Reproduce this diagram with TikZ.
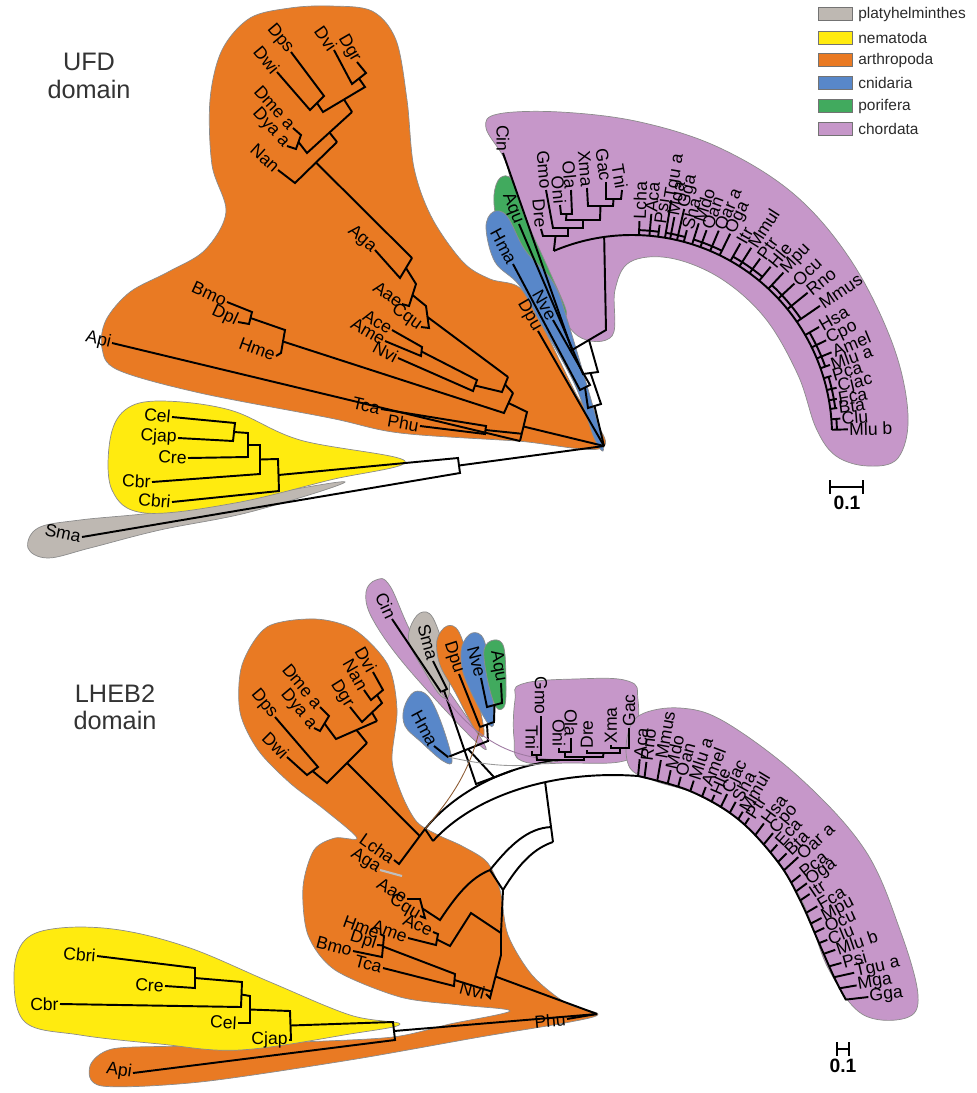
\documentclass[tikz,border=0pt]{standalone}
\usepackage{fontspec}
\setmainfont{Liberation Sans}
\usetikzlibrary{calc}
\definecolor{platy}{HTML}{BEB8B2}
\definecolor{nema}{HTML}{FFEB0F}
\definecolor{arthro}{HTML}{E97A23}
\definecolor{cnid}{HTML}{5887C9}
\definecolor{pori}{HTML}{41AA5E}
\definecolor{chord}{HTML}{C697C9}
\definecolor{inktext}{HTML}{2B2B2B}
\definecolor{brline}{HTML}{8C5A32}

\begin{document}
\begin{tikzpicture}[
    x=0.02cm, y=-0.02cm,
    tx/.style={font=\fontsize{10}{10}\selectfont, inner sep=0.6pt},
    te/.style={tx, anchor=east},
    tw/.style={tx, anchor=west},
    br/.style={line width=1.1pt},
    blob/.style={draw=black!45, line width=0.4pt},
    faint/.style={line width=0.5pt},
    headline/.style={font=\fontsize{14.4}{15.5}\selectfont, text=black!80, align=center},
    keybox/.style={draw=black!55, line width=0.5pt, minimum width=0.68cm, minimum height=0.26cm, inner sep=0pt},
    keytxt/.style={font=\fontsize{8.8}{10}\selectfont, text=inktext, anchor=west, inner sep=0pt},
    sbar/.style={line width=1.1pt, |-|},
    sbtxt/.style={font=\bfseries\fontsize{11}{11}\selectfont}
]
\useasboundingbox (0,0) rectangle (977,1093);

% --- Titles ---
\node[headline] (ufd) at (89,76) {UFD\\domain};
\node[headline] (lheb) at (115,707) {LHEB2\\domain};

% --- Legend ---
\foreach \y/\c/\t in {14/platy/platyhelminthes, 38/nema/nematoda, 60/arthro/arthropoda, 83/cnid/cnidaria, 106/pori/porifera, 129/chord/chordata}{
  \node[keybox, fill=\c] (key\c) at (835,\y) {};
  \node[keytxt] (lab\c) at (858,\y) {\t};
}

% --- UFD: clade shapes ---
\path[blob, fill=platy] plot[smooth cycle, tension=0.6] coordinates {(28,548) (38,528) (80,520) (160,512) (250,497) (345,482) (250,512) (160,530) (90,548) (48,558)};
\path[blob, fill=nema] plot[smooth cycle, tension=0.6] coordinates {(110,440) (125,410) (160,401) (230,410) (300,440) (405,461) (330,480) (235,503) (145,513) (112,490)};
\path[blob, fill=arthro] plot[smooth cycle, tension=0.55] coordinates {(604,447) (575,392) (542,325) (520,288) (490,279) (463,262) (432,218) (414,168) (407,100) (396,40) (372,11) (330,6) (290,8) (250,18) (222,50) (210,100) (212,165) (226,212) (205,250) (168,272) (130,292) (106,320) (102,348) (118,370) (200,393) (330,418) (400,433) (517,441)};
\path[blob, fill=chord] plot[smooth cycle, tension=0.6] coordinates {(486,128) (498,114) (560,112) (640,122) (720,148) (795,195) (852,262) (893,345) (908,415) (898,458) (868,466) (836,456) (816,428) (798,375) (765,318) (720,278) (670,258) (630,262) (615,290) (612,336) (578,336) (548,292) (530,248) (514,195) (505,160)};
\path[blob, fill=pori] plot[smooth cycle, tension=0.6] coordinates {(494,195) (500,178) (512,180) (524,215) (548,268) (566,310) (560,312) (535,275) (510,240) (497,220)};
\path[blob, fill=cnid] plot[smooth cycle, tension=0.6] coordinates {(486,228) (493,212) (507,216) (525,250) (553,282) (568,322) (602,440) (595,440) (575,385) (540,322) (519,285) (495,262)};

% --- LHEB2: clade shapes ---
\path[blob, fill=arthro] plot[smooth cycle, tension=0.5] coordinates {(598,1014) (566,1003) (532,975) (508,935) (500,890) (487,862) (462,846) (438,835) (417,822) (402,795) (392,760) (397,710) (388,665) (355,630) (315,619) (267,627) (242,665) (240,712) (258,750) (290,783) (325,810) (357,838) (335,838) (314,850) (303,887) (308,935) (335,970) (400,997) (460,1005) (510,1011) (450,1024) (393,1037) (300,1042) (180,1046) (112,1049) (90,1066) (102,1086) (200,1082) (350,1060) (480,1037) (570,1022)};
\path[blob, fill=nema] plot[smooth cycle, tension=0.6] coordinates {(14,975) (25,940) (60,928) (120,930) (190,948) (270,982) (350,1015) (400,1024) (350,1034) (240,1050) (160,1044) (80,1035) (25,1022)};
\path[blob, fill=chord] plot[smooth cycle, tension=0.6] coordinates {(366,592) (376,580) (390,586) (418,645) (482,740) (472,738) (405,665) (372,618)};
\path[blob, fill=platy] plot[smooth cycle, tension=0.6] coordinates {(410,628) (420,613) (433,618) (447,660) (449,695) (440,695) (425,672) (410,645)};
\path[blob, fill=arthro] plot[smooth cycle, tension=0.6] coordinates {(437,640) (447,626) (459,632) (470,668) (484,730) (476,731) (455,692) (440,665)};
\path[blob, fill=cnid] plot[smooth cycle, tension=0.6] coordinates {(462,646) (472,633) (484,640) (491,680) (494,722) (487,722) (470,690) (462,668)};
\path[blob, fill=pori] plot[smooth cycle, tension=0.6] coordinates {(484,650) (494,640) (504,648) (506,690) (504,707) (496,707) (488,682)};
\path[blob, fill=cnid] plot[smooth cycle, tension=0.6] coordinates {(404,708) (414,692) (428,696) (441,722) (452,760) (443,761) (421,742) (405,726)};
\path[blob, fill=chord] plot[smooth cycle, tension=0.7] coordinates {(515,700) (522,684) (575,679) (628,681) (638,700) (636,745) (624,761) (570,763) (522,761) (514,738)};
\path[blob, fill=chord] plot[smooth cycle, tension=0.6] coordinates {(627,738) (640,715) (680,708) (725,722) (800,778) (865,850) (900,930) (918,995) (906,1018) (862,1014) (828,968) (800,897) (752,832) (700,796) (655,781) (630,768)};

% --- UFD: Drosophila ---
\node[te, rotate=-50] (tDps) at (291,52) {Dps};
\node[te, rotate=-50] (tDwi) at (277,72) {Dwi};
\node[te, rotate=-55] (tDvi) at (334,50) {Dvi};
\node[te, rotate=-60] (tDgr) at (357,62) {Dgr};
\node[te, rotate=-48] (tDme) at (293,128) {Dme a};
\node[te, rotate=-48] (tDya) at (287,146) {Dya a};
\node[te, rotate=-42] (tNan) at (278,170) {Nan};
\coordinate (d1) at (324,96);  \coordinate (d2) at (310,110);
\coordinate (d3) at (352,84);  \coordinate (d4) at (366,73);
\coordinate (d5) at (323,112); \coordinate (d6) at (365,87);
\coordinate (d7) at (352,112); \coordinate (d8) at (301,135);
\coordinate (d9) at (296,149); \coordinate (d10) at (307,153);
\coordinate (d11) at (337,142); \coordinate (d12) at (295,183);
\coordinate (d13) at (412,258);
\draw[br] (tDps.east) -- (d1) -- (d2) -- (tDwi.east);
\draw[br] (tDvi.east) -- (d3) -- (d4) -- (tDgr.east);
\draw[br] ($(d1)!0.5!(d2)$) -- (d5) -- (d6) -- ($(d3)!0.5!(d4)$);
\draw[br] ($(d5)!0.5!(d6)$) -- (d7);
\draw[br] (tDme.east) -- (d8) -- (d9) -- (tDya.east);
\draw[br] ($(d8)!0.5!(d9)$) -- (d10) -- (d7);
\draw[br] ($(d10)!0.5!(d7)$) -- (d11);
\draw[br] (tNan.east) -- (d12) -- (d11);
\draw[br] ($(d12)!0.5!(d11)$) -- (d13);

% --- UFD: other arthropods ---
\node[te, rotate=-40] (tAga) at (375,250) {Aga};
\node[te, rotate=-35] (tAae) at (402,304) {Aae};
\node[te, rotate=-35] (tCqu) at (421,327) {Cqu};
\coordinate (a1) at (400,278); \coordinate (a2) at (416,284);
\coordinate (a3) at (409,306); \coordinate (a4) at (426,306);
\coordinate (a5) at (429,328); \coordinate (a6) at (508,377);
\draw[br] (tAga.east) -- (a1) -- (d13);
\draw[br] ($(d13)!0.5!(a1)$) -- (a2) -- (a3) -- (tAae.east);
\draw[br] ($(a2)!0.5!(a3)$) -- (a4) -- (a5) -- (tCqu.east);
\draw[br] ($(a4)!0.5!(a5)$) -- (a6);
\node[te, rotate=-30] (tAce) at (392,330) {Ace};
\node[te, rotate=-30] (tAme) at (385,341) {Ame};
\node[te, rotate=-28] (tNvi) at (398,358) {Nvi};
\coordinate (h1) at (422,347); \coordinate (h2) at (421,356);
\coordinate (h3) at (477,380); \coordinate (h4) at (473,391);
\coordinate (h5) at (502,392); \coordinate (a7) at (513,393);
\draw[br] (tAce.east) -- (h1) -- (h2) -- (tAme.east);
\draw[br] ($(h1)!0.5!(h2)$) -- (h3) -- (h4) -- (tNvi.east);
\draw[br] ($(h3)!0.5!(h4)$) -- (h5) -- (a6);
\draw[br] ($(a6)!0.5!(h5)$) -- (a7);
\node[te, rotate=-25] (tBmo) at (227,302) {Bmo};
\node[te, rotate=-25] (tDpl) at (238,322) {Dpl};
\node[te, rotate=-20] (tHme) at (276,356) {Hme};
\coordinate (l1) at (252,312); \coordinate (l2) at (249,324);
\coordinate (l3) at (285,330); \coordinate (l4) at (281,353);
\coordinate (a8) at (504,413); \coordinate (a9) at (527,412);
\coordinate (a10) at (520,441); \coordinate (R1) at (604,446);
\draw[br] (tBmo.east) -- (l1) -- (l2) -- (tDpl.east);
\draw[br] ($(l1)!0.5!(l2)$) -- (l3) -- (l4) -- (tHme.east);
\draw[br] ($(l3)!0.5!(l4)$) -- (a8) -- (a7);
\draw[br] ($(a7)!0.5!(a8)$) -- (a9) -- (a10);
\node[te, rotate=-13] (tApi) at (112,343) {Api};
\draw[br] (tApi.east) -- (a10);
\node[te, rotate=-13] (tTca) at (381,409) {Tca};
\node[te, rotate=-10] (tPhu) at (420,426) {Phu};
\coordinate (p1) at (486,426); \coordinate (p2) at (485,434);
\draw[br] (tTca.east) -- (p1) -- (p2) -- (tPhu.east);
\draw[br] ($(p1)!0.5!(p2)$) -- ($(a9)!0.75!(a10)$);
\draw[br] ($(a9)!0.5!(a10)$) -- (R1);

% --- UFD: nematodes and flatworm ---
\node[te, rotate=-5] (tCel) at (172,417) {Cel};
\node[te, rotate=-3] (tCjap) at (178,438) {Cjap};
\node[te, rotate=-3] (tCre) at (188,458) {Cre};
\node[te, rotate=-3] (tCbr) at (152,482) {Cbr};
\node[te, rotate=-5] (tCbri) at (172,502) {Cbri};
\node[te, rotate=-12] (tSma) at (82,537) {Sma};
\coordinate (c1) at (235,423); \coordinate (c2) at (233,441);
\coordinate (c3) at (248,433); \coordinate (c4) at (248,457);
\coordinate (c5) at (260,445); \coordinate (c6) at (260,474);
\coordinate (c7) at (278,459); \coordinate (c8) at (279,491);
\coordinate (c9) at (458,458); \coordinate (c10) at (460,473);
\draw[br] (tCel.east) -- (c1) -- (c2) -- (tCjap.east);
\draw[br] ($(c1)!0.5!(c2)$) -- (c3) -- (c4) -- (tCre.east);
\draw[br] ($(c3)!0.5!(c4)$) -- (c5) -- (c6) -- (tCbr.east);
\draw[br] ($(c5)!0.5!(c6)$) -- (c7) -- (c8) -- (tCbri.east);
\draw[br] ($(c7)!0.5!(c8)$) -- (c9) -- (c10) -- (tSma.east);
\draw[br] ($(c9)!0.5!(c10)$) -- (R1);

% --- UFD: sponge, cnidarians, Daphnia, Ciona ---
\node[te, rotate=-90] (tCin) at (503,153) {Cin};
\node[te, rotate=-68] (tAqu) at (519,224) {Aqu};
\node[te, rotate=-62] (tHma) at (513,264) {Hma};
\node[te, rotate=-60] (tNve) at (553,320) {Nve};
\node[te, rotate=-60] (tDpu) at (538,331) {Dpu};
\coordinate (C1) at (632,435);
\coordinate (cstem) at ($(C1)+(-98:200)$);
\coordinate (t0) at (606,330); \coordinate (t1) at (572,350);
\coordinate (t2) at (598,372); \coordinate (t3) at (583,374);
\coordinate (t4) at (580,390); \coordinate (t5) at (590,385);
\coordinate (t6) at (601,404); \coordinate (t7) at (588,408);
\draw[br] (cstem) -- (t0) -- (t1) -- (tCin.east);
\draw[br] ($(t0)!0.5!(t1)$) -- (t2) -- (t3) -- (tAqu.east);
\draw[br] (tHma.east) -- (t4) -- (t5) -- (tNve.east);
\draw[br] ($(t2)!0.5!(t3)$) -- (t6) -- (t7) -- ($(t4)!0.5!(t5)$);
\draw[br] ($(t6)!0.5!(t7)$) -- (R1);
\draw[br] (tDpu.east) -- (R1);

% --- UFD: chordates ---
\draw[br] ($(C1)+(-113:200)$) coordinate (fishroot) arc[start angle=-113, end angle=-1.5, radius=200];
\node[te, rotate=-85] (tGmo) at (546,190) {Gmo};
\node[te, rotate=-85] (tDre) at (541,229) {Dre};
\node[te, rotate=-85] (tOni) at (560,205) {Oni};
\node[te, rotate=-85] (tOla) at (571,190) {Ola};
\node[te, rotate=-85] (tXma) at (587,188) {Xma};
\node[te, rotate=-82] (tGac) at (606,182) {Gac};
\node[te, rotate=-80] (tTni) at (622,190) {Tni};
\coordinate (f1) at (606,199); \coordinate (f2) at (621,199);
\coordinate (f3) at (588,206); \coordinate (f4) at (613,206);
\coordinate (f5) at (561,214); \coordinate (f6) at (572,214);
\coordinate (f7) at (566,220); \coordinate (f8) at (600,220);
\coordinate (f9) at (553,228); \coordinate (f10) at (583,228);
\coordinate (f11) at (543,236); \coordinate (f12) at (568,236);
\draw[br] (tGac.east) -- (f1) -- (f2) -- (tTni.east);
\draw[br] (tXma.east) -- (f3) -- (f4) -- ($(f1)!0.5!(f2)$);
\draw[br] (tOni.east) -- (f5) -- (f6) -- (tOla.east);
\draw[br] ($(f5)!0.5!(f6)$) -- (f7) -- (f8) -- ($(f3)!0.5!(f4)$);
\draw[br] (tGmo.east) -- (f9) -- (f10) -- ($(f7)!0.5!(f8)$);
\draw[br] (tDre.east) -- (f11) -- (f12) -- ($(f9)!0.5!(f10)$);
\draw[br] ($(f11)!0.5!(f12)$) -- (fishroot);
\foreach \a/\r/\n [count=\i] in {-88/214/Lcha, -85/222/Aca, -82.5/212/Psi, -80.5/238/Tgu a, -79/222/Mga, -77/232/Gga, -75/212/Sha, -72.5/222/Mdo, -70/218/Oan, -67/222/Oar a, -64/224/Oga, -60.5/220/Itr, -57.5/222/Mmul, -54/218/Ptr, -50.5/218/Hle, -47/222/Mpu, -43/222/Ocu, -39/226/Rno, -34.5/228/Mmus, -30/216/Hsa, -26/216/Cpo, -22.5/216/Amel, -19.5/210/Mlu a, -16.5/208/Pca, -13/210/Cjac, -10/208/Fca, -7.5/207/Bta, -4.5/209/Clu, -1.5/216/Mlu b}{
  \node[tw, rotate={0-(\a)}] (ut\i) at ($(C1)+(\a:\r)$) {\n};
  \draw[br] ($(C1)+(\a:200)$) -- (ut\i.west);
}
\foreach \s/\e in {-88/-82.5, -80.5/-75, -72.5/-64, -60.5/-50.5, -47/-34.5, -30/-19.5, -16.5/-7.5, -4.5/-1.5}
  \draw[br] ($(C1)+(\s:205)$) arc[start angle=\s, end angle=\e, radius=205];

% --- UFD: scale ---
\coordinate (sbL) at (829,487); \coordinate (sbR) at (864,487);
\draw[sbar] (sbL) -- (sbR);
\node[sbtxt] (sbt) at (847,503) {0.1};

% --- LHEB2: Drosophila ---
\node[te, rotate=-60] (bDvi) at (373,672) {Dvi};
\node[te, rotate=-60] (bNan) at (364,690) {Nan};
\node[te, rotate=-58] (bDgr) at (350,707) {Dgr};
\node[te, rotate=-50] (bDme) at (320,707) {Dme a};
\node[te, rotate=-50] (bDya) at (314,728) {Dya a};
\node[te, rotate=-50] (bDps) at (275,717) {Dps};
\node[te, rotate=-45] (bDwi) at (287,757) {Dwi};
\coordinate (e1) at (383,690); \coordinate (e2) at (371,700);
\coordinate (e3) at (382,703); \coordinate (e4) at (362,722);
\coordinate (e5) at (377,721); \coordinate (e6) at (329,716);
\coordinate (e7) at (320,731); \coordinate (e8) at (336,739);
\coordinate (e9) at (367,743); \coordinate (e10) at (318,767);
\coordinate (e11) at (307,775); \coordinate (e12) at (327,783);
\coordinate (m1a) at (425,829); \coordinate (m1b) at (399,864);
\coordinate (m1c) at (433,841);
\draw[br] (bDvi.east) -- (e1) -- (e2) -- (bNan.east);
\draw[br] ($(e1)!0.5!(e2)$) -- (e3) -- (e4) -- (bDgr.east);
\draw[br] ($(e3)!0.5!(e4)$) -- (e5);
\draw[br] (bDme.east) -- (e6) -- (e7) -- (bDya.east);
\draw[br] ($(e6)!0.5!(e7)$) -- (e8) -- (e5);
\draw[br] ($(e8)!0.5!(e5)$) -- (e9);
\draw[br] (bDps.east) -- (e10) -- (e11) -- (bDwi.east);
\draw[br] ($(e10)!0.5!(e11)$) -- (e12) -- (e9);
\draw[br] ($(e12)!0.5!(e9)$) -- ($(m1a)!0.2!(m1b)$);
\node[te, rotate=-35] (bLcha) at (394,860) {Lcha};
\node[te, rotate=-32] (bAga) at (380,870) {Aga};
\draw[br] (m1c) -- (m1a) -- (m1b) -- (bLcha.east);
\coordinate (agaend) at (402,876);
\draw[line width=1.2pt, black!25] (bAga.east) -- (agaend);

% --- LHEB2: other arthropods ---
\node[te, rotate=-30] (bAae) at (407,899) {Aae};
\node[te, rotate=-30] (bCqu) at (420,916) {Cqu};
\node[te, rotate=-25] (bAce) at (433,932) {Ace};
\node[te, rotate=-20] (bAme) at (408,938) {Ame};
\node[te, rotate=-20] (bHme) at (380,934) {Hme};
\node[te, rotate=-18] (bDpl) at (377,945) {Dpl};
\node[te, rotate=-15] (bBmo) at (353,951) {Bmo};
\node[te, rotate=-15] (bTca) at (383,968) {Tca};
\node[te, rotate=-15] (bNvi) at (486,994) {Nvi};
\node[te, rotate=5] (bPhu) at (567,1019) {Phu};
\coordinate (k1) at (420,899); \coordinate (k2) at (425,918);
\coordinate (k3) at (440,920);
\coordinate (k4) at (438,934); \coordinate (k5) at (436,945);
\coordinate (k6) at (450,946); \coordinate (k7) at (471,913);
\coordinate (k8) at (384,936); \coordinate (k9) at (382,957);
\coordinate (k10) at (455,974); \coordinate (k11) at (454,986);
\coordinate (n3a) at (490,870); \coordinate (n3b) at (503,890);
\coordinate (n2) at (501,933);
\coordinate (n1a) at (501,955); \coordinate (n1b) at (490,998);
\coordinate (R2) at (597,1014);
\draw[br] (bAae.east) -- (k1) -- (k2) -- (bCqu.east);
\draw[br] ($(k1)!0.5!(k2)$) -- (k3) .. controls (456,896) and (470,878) .. (n3a);
\draw[br] (bAce.east) -- (k4) -- (k5) -- (bAme.east);
\draw[br] ($(k4)!0.5!(k5)$) -- (k6) -- (k7) -- (n2);
\draw[br] (bHme.east) -- (k8) -- (k9) -- (bBmo.east);
\draw[br] (bDpl.east) -- ($(k8)!0.45!(k9)$);
\draw[br] ($(k8)!0.5!(k9)$) -- (k10) -- (k11) -- (bTca.east);
\draw[br] ($(k10)!0.5!(k11)$) -- ($(n1a)!0.85!(n1b)$);
\draw[br] (n3a) -- (n3b) -- (n2) -- (n1a) -- (n1b) -- (bNvi.east);
\draw[br] ($(n1a)!0.5!(n1b)$) -- (R2);
\draw[br] (bPhu.east) -- (R2);

% --- LHEB2: arcs towards chordates ---
\coordinate (bb1) at (638,776);
\coordinate (v2) at (553,842);
\draw[br] (m1c) .. controls (478,792) and (560,770) .. coordinate[pos=0.6] (v1) (bb1);
\draw[br] (v1) -- (v2);
\draw[br] (n3b) .. controls (520,862) and (535,848) .. (v2);
\draw[br] (n3a) .. controls (510,845) and (528,828) .. ($(v1)!0.75!(v2)$);

% --- LHEB2: nematodes and Api ---
\node[te, rotate=-5] (bCbri) at (97,956) {Cbri};
\node[te, rotate=-3] (bCre) at (165,986) {Cre};
\node[te] (bCbr) at (60,1004) {Cbr};
\node[te, rotate=-3] (bCel) at (238,1023) {Cel};
\node[te] (bCjap) at (289,1040) {Cjap};
\node[te, rotate=-8] (bApi) at (133,1073) {Api};
\coordinate (w1) at (195,968); \coordinate (w2) at (195,988);
\coordinate (w3) at (242,982); \coordinate (w4) at (241,1007);
\coordinate (w5) at (250,996); \coordinate (w6) at (250,1023);
\coordinate (w7) at (290,1011); \coordinate (w8) at (291,1040);
\coordinate (w9) at (393,1022); \coordinate (w10) at (395,1040);
\draw[br] (bCbri.east) -- (w1) -- (w2) -- (bCre.east);
\draw[br] ($(w1)!0.5!(w2)$) -- (w3) -- (w4) -- (bCbr.east);
\draw[br] ($(w3)!0.5!(w4)$) -- (w5) -- (w6) -- (bCel.east);
\draw[br] ($(w5)!0.5!(w6)$) -- (w7) -- (w8) -- (bCjap.east);
\draw[br] ($(w7)!0.5!(w8)$) -- (w9) -- (w10) -- (bApi.east);
\draw[br] ($(w9)!0.5!(w10)$) -- (R2);

% --- LHEB2: Ciona, Sma, Daphnia, cnidarians, sponge ---
\node[te, rotate=-65] (bCin) at (392,619) {Cin};
\node[te, rotate=-75] (bSma) at (433,661) {Sma};
\node[te, rotate=-72] (bDpu) at (459,674) {Dpu};
\node[te, rotate=-75] (bNve) at (481,678) {Nve};
\node[te, rotate=-80] (bAqu) at (501,683) {Aqu};
\node[te, rotate=-62] (bHma) at (434,746) {Hma};
\coordinate (q1) at (441,692); \coordinate (q2) at (447,689);
\coordinate (q3) at (487,707); \coordinate (q4) at (502,703);
\coordinate (q5) at (480,727); \coordinate (q6) at (494,722);
\coordinate (q7) at (448,757); \coordinate (q8) at (488,741);
\coordinate (s0a) at (476,784);
\draw[br] (m1a) .. controls (455,792) and (505,766) .. coordinate[pos=0.7] (u7) (560,760) coordinate (fishroot2);
\draw[br] (bCin.east) -- (q1) -- (q2) -- (bSma.east);
\draw[br] ($(q1)!0.5!(q2)$) -- (s0a) -- (u7);
\draw[br] (bNve.east) -- (q3) -- (q4) -- (bAqu.east);
\draw[br] (bDpu.east) -- (q5) -- (q6) -- ($(q3)!0.5!(q4)$);
\draw[br] (bHma.east) -- (q7) -- (q8) -- ($(q5)!0.5!(q6)$);
\draw[br] ($(q7)!0.5!(q8)$) -- ($(s0a)!0.5!(u7)$);
\draw[faint, brline] (q5) .. controls (470,775) and (445,805) .. (m1a);
\draw[faint, chord!80!black] (q1) .. controls (480,745) and (515,758) .. (fishroot2);
\draw[faint, black!40] (q7) .. controls (485,765) and (520,770) .. (fishroot2);

% --- LHEB2: fish ---
\node[te, rotate=-90] (bGmo) at (541,716) {Gmo};
\node[te, rotate=-90] (bTni) at (532,751) {Tni};
\node[te, rotate=-90] (bOni) at (559,748) {Oni};
\node[te, rotate=-90] (bOla) at (571,738) {Ola};
\node[tw, rotate=90] (bDre) at (587,750) {Dre};
\node[tw, rotate=90] (bXma) at (611,745) {Xma};
\node[tw, rotate=90] (bGac) at (629,728) {Gac};
\coordinate (g1) at (532,755); \coordinate (g2) at (541,755);
\coordinate (g3) at (559,752); \coordinate (g4) at (571,752);
\coordinate (g5) at (611,748); \coordinate (g6) at (629,748);
\coordinate (g7) at (620,753); \coordinate (g8) at (587,753);
\coordinate (g9) at (565,757); \coordinate (g10) at (603,757);
\coordinate (g11) at (537,760); \coordinate (g12) at (584,760);
\draw[br] (bTni.east) -- (g1) -- (g2) -- (bGmo.east);
\draw[br] (bOni.east) -- (g3) -- (g4) -- (bOla.east);
\draw[br] (bXma.west) -- (g5) -- (g6) -- (bGac.west);
\draw[br] (bDre.west) -- (g8) -- (g7) -- ($(g5)!0.5!(g6)$);
\draw[br] ($(g3)!0.5!(g4)$) -- (g9) -- (g10) -- ($(g8)!0.5!(g7)$);
\draw[br] ($(g1)!0.5!(g2)$) -- (g11) -- (g12) -- ($(g9)!0.5!(g10)$);

% --- LHEB2: tetrapods ---
\coordinate (C2) at (614,1026);
\draw[br] plot[smooth, tension=0.6] coordinates {(bb1) (690,791) (738,819) (778,862) (800,900) (819,943) (834,977) (846,1000)};
\foreach \a/\b/\r/\n [count=\i] in {-84.5/251/268/Aca, -83/251/266/Rno, -80/250/270/Mmus, -77.5/249/262/Mdo, -75/248/258/Oan, -72/247/258/Mlu a, -69/245/256/Amel, -66.5/244/252/Hle, -64/243/258/Cjac, -61.5/242/255/Sha, -59/241/250/Mmul, -57/240/248/Ptr, -53.5/238/252/Hsa, -50.5/236/250/Cpo, -48/234/244/Eca, -45/232/244/Bta, -42.5/230/250/Oar a, -39/228/240/Pca, -36.5/226/240/Oga, -34/225/236/Itr, -30.5/223/236/Fca, -27.5/222/234/Mpu, -25/221/232/Ocu, -22/221/230/Clu, -19/222/234/Mlu b, -15.5/223/236/Psi, -12.5/225/246/Tgu a, -9.5/228/246/Mga, -6.5/233/256/Gga}{
  \node[tw, rotate={0-(\a)}] (lt\i) at ($(C2)+(\a:\r)$) {\n};
  \draw[br] ($(C2)+(\a:\b)$) -- (lt\i.west);
}

% --- LHEB2: scale ---
\coordinate (sb2L) at (836,1049); \coordinate (sb2R) at (850,1049);
\draw[sbar] (sb2L) -- (sb2R);
\node[sbtxt] (sb2t) at (843,1066) {0.1};

\end{tikzpicture}
\end{document}
